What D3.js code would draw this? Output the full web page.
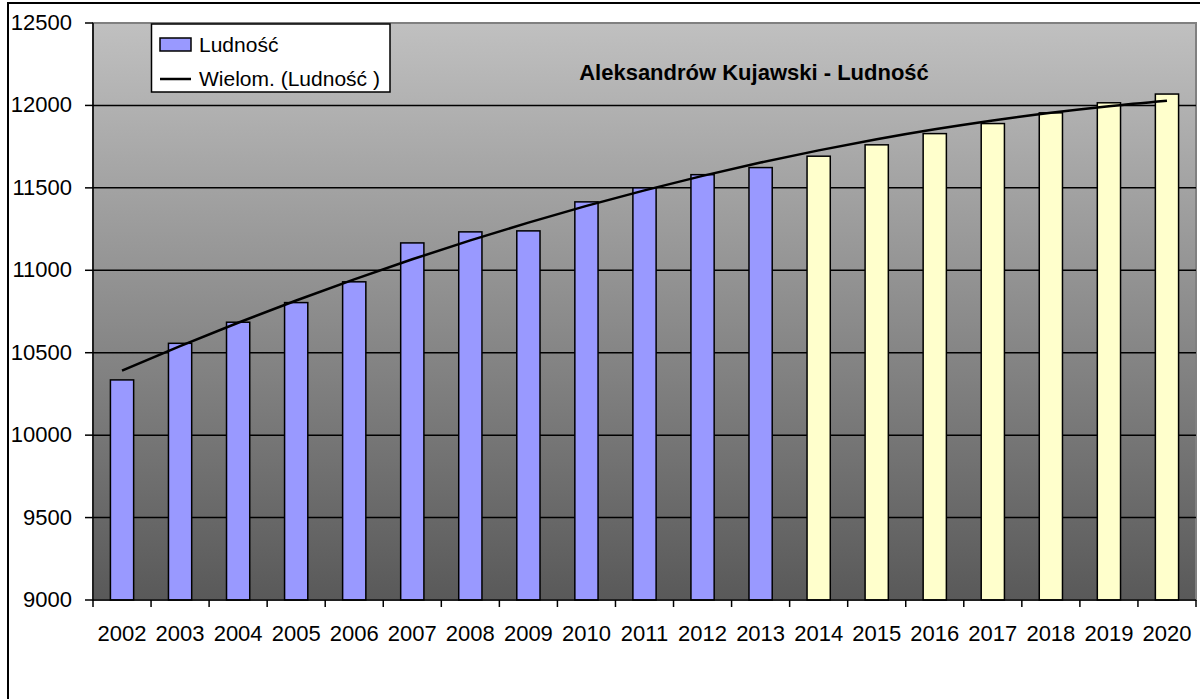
<!DOCTYPE html>
<html>
<head>
<meta charset="utf-8">
<script src="https://cdn.jsdelivr.net/npm/d3@7"></script>
<style>
  body { margin: 0; background: #fff; }
  svg { display: block; font-family: 'Liberation Sans', Arial, sans-serif; }
</style>
</head>
<body>
<div id="chart"></div>
<script>
var years = ['2002', '2003', '2004', '2005', '2006', '2007', '2008', '2009', '2010', '2011',
  '2012', '2013', '2014', '2015', '2016', '2017', '2018', '2019', '2020']
var population = [10335, 10557, 10685, 10804, 10930, 11166, 11233, 11239, 11415, 11500,
  11580, 11623, 11692, 11761, 11829, 11890, 11955, 12016, 12069]
var lastActual = '2013' // later years are forecast (yellow bars)
var yTicks = [9000, 9500, 10000, 10500, 11000, 11500, 12000, 12500]
var title = 'Aleksandrów Kujawski - Ludność'
var legendLabels = ['Ludność', 'Wielom. (Ludność )']

var width = 1200
var height = 699
var margin = { top: 23, right: 4, bottom: 99, left: 93 }

var svg = d3.select('#chart')
  .append('svg')
  .attr('width', width)
  .attr('height', height)

var x = d3.scaleBand()
  .domain(years)
  .range([margin.left, width - margin.right])
  .paddingInner(0.6)
  .paddingOuter(0.3)

var y = d3.scaleLinear()
  .domain([9000, 12500])
  .range([height - margin.bottom, margin.top])

var x0 = margin.left
var x1 = width - margin.right
var step = x.step()

// background gradient
var defs = svg.append('defs')
var grad = defs.append('linearGradient')
  .attr('id', 'bg')
  .attr('x1', 0).attr('y1', 0).attr('x2', 0).attr('y2', 1)
grad.append('stop').attr('offset', '0%').attr('stop-color', '#c0c0c0')
grad.append('stop').attr('offset', '100%').attr('stop-color', '#595959')

// chart border (right/bottom edges run off the page)
svg.append('rect')
  .attr('x', 8).attr('y', 3)
  .attr('width', width + 10).attr('height', height + 10)
  .attr('fill', '#fff')
  .attr('stroke', '#000')
  .attr('stroke-width', 2)

svg.append('rect')
  .attr('x', x0).attr('y', y(12500))
  .attr('width', x1 - x0).attr('height', y(9000) - y(12500))
  .attr('fill', 'url(#bg)')
  .attr('stroke', '#808080')
  .attr('stroke-width', 2)

// gridlines
svg.append('g')
  .selectAll('line')
  .data(yTicks.filter(function(d) { return d > 9000 && d < 12500 }))
  .enter()
  .append('line')
  .attr('x1', x0).attr('x2', x1)
  .attr('y1', function(d) { return y(d) })
  .attr('y2', function(d) { return y(d) })
  .attr('stroke', '#000')
  .attr('stroke-width', 1.5)

// bars
var actualIdx = years.indexOf(lastActual)
svg.append('g')
  .selectAll('rect')
  .data(population)
  .enter()
  .append('rect')
  .attr('x', function(d, i) { return x(years[i]) })
  .attr('y', function(d) { return y(d) })
  .attr('width', x.bandwidth())
  .attr('height', function(d) { return y(9000) - y(d) })
  .attr('fill', function(d, i) { return i <= actualIdx ? '#9999ff' : '#ffffcc' })
  .attr('stroke', '#000')
  .attr('stroke-width', 1.5)

// polynomial (2nd order) trendline, least squares over the bars
function polyFit(ys) {
  var s = [0, 0, 0, 0, 0]
  var t = [0, 0, 0]
  ys.forEach(function(v, i) {
    var xi = i + 1
    for (var k = 0; k < 5; k++) s[k] += Math.pow(xi, k)
    for (k = 0; k < 3; k++) t[k] += v * Math.pow(xi, k)
  })
  var m = [
    [s[0], s[1], s[2], t[0]],
    [s[1], s[2], s[3], t[1]],
    [s[2], s[3], s[4], t[2]]
  ]
  for (var c = 0; c < 3; c++) {
    for (var r = c + 1; r < 3; r++) {
      var f = m[r][c] / m[c][c]
      for (var k2 = c; k2 < 4; k2++) m[r][k2] -= f * m[c][k2]
    }
  }
  var coef = [0, 0, 0]
  for (var r2 = 2; r2 >= 0; r2--) {
    var sum = m[r2][3]
    for (var c2 = r2 + 1; c2 < 3; c2++) sum -= m[r2][c2] * coef[c2]
    coef[r2] = sum / m[r2][r2]
  }
  return coef
}

var coef = polyFit(population)
var trend = population.map(function(d, i) {
  var xi = i + 1
  return coef[0] + coef[1] * xi + coef[2] * xi * xi
})

var line = d3.line()
  .x(function(d, i) { return x(years[i]) + x.bandwidth() / 2 })
  .y(function(d) { return y(d) })
  .curve(d3.curveMonotoneX)

svg.append('path')
  .datum(trend)
  .attr('d', line)
  .attr('fill', 'none')
  .attr('stroke', '#000')
  .attr('stroke-width', 2.5)

// axes
svg.append('line')
  .attr('x1', x0).attr('x2', x0)
  .attr('y1', y(12500)).attr('y2', y(9000))
  .attr('stroke', '#000').attr('stroke-width', 1.5)
svg.append('line')
  .attr('x1', x0).attr('x2', x1)
  .attr('y1', y(9000)).attr('y2', y(9000))
  .attr('stroke', '#000').attr('stroke-width', 1.5)

var yAxis = svg.append('g')
yAxis.selectAll('line')
  .data(yTicks)
  .enter()
  .append('line')
  .attr('x1', x0 - 8).attr('x2', x0)
  .attr('y1', function(d) { return y(d) })
  .attr('y2', function(d) { return y(d) })
  .attr('stroke', '#000').attr('stroke-width', 1.5)
yAxis.selectAll('text')
  .data(yTicks)
  .enter()
  .append('text')
  .attr('x', 72)
  .attr('y', function(d) { return y(d) + 7 })
  .attr('text-anchor', 'end')
  .attr('font-size', 22)
  .text(function(d) { return d })

var xAxis = svg.append('g')
xAxis.selectAll('line')
  .data(d3.range(years.length + 1))
  .enter()
  .append('line')
  .attr('x1', function(d) { return x0 + d * step })
  .attr('x2', function(d) { return x0 + d * step })
  .attr('y1', y(9000)).attr('y2', y(9000) + 7)
  .attr('stroke', '#000').attr('stroke-width', 1.5)
xAxis.selectAll('text')
  .data(years)
  .enter()
  .append('text')
  .attr('x', function(d) { return x(d) + x.bandwidth() / 2 })
  .attr('y', 641)
  .attr('text-anchor', 'middle')
  .attr('font-size', 22)
  .text(function(d) { return d })

// title
svg.append('text')
  .attr('x', 754)
  .attr('y', 80)
  .attr('text-anchor', 'middle')
  .attr('font-size', 22)
  .attr('font-weight', 'bold')
  .text(title)

// legend
var legend = svg.append('g')
legend.append('rect')
  .attr('x', 151.5).attr('y', 24)
  .attr('width', 238.5).attr('height', 68)
  .attr('fill', '#fff')
  .attr('stroke', '#000')
  .attr('stroke-width', 1.5)
legend.append('rect')
  .attr('x', 160).attr('y', 38)
  .attr('width', 31).attr('height', 13)
  .attr('fill', '#9999ff')
  .attr('stroke', '#000')
  .attr('stroke-width', 1.5)
legend.append('line')
  .attr('x1', 160).attr('x2', 191)
  .attr('y1', 79).attr('y2', 79)
  .attr('stroke', '#000')
  .attr('stroke-width', 2.5)
legend.selectAll('text')
  .data(legendLabels)
  .enter()
  .append('text')
  .attr('x', 199)
  .attr('y', function(d, i) { return 52 + i * 34 })
  .attr('font-size', 21)
  .text(function(d) { return d })
</script>
</body>
</html>
